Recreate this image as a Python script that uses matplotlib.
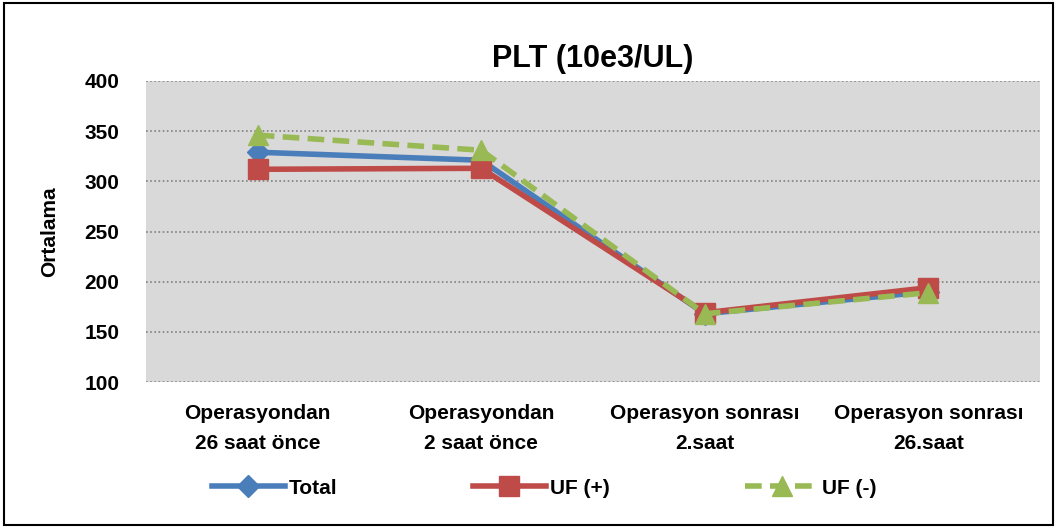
import matplotlib
matplotlib.use("Agg")
import matplotlib.pyplot as plt
from matplotlib.patches import Rectangle

plt.rcParams['font.family'] = ['Liberation Sans', 'DejaVu Sans']
plt.rcParams['font.weight'] = 'bold'

# data
categories = ["Operasyondan\n26 saat önce", "Operasyondan\n2 saat önce",
              "Operasyon sonrası\n2.saat", "Operasyon sonrası\n26.saat"]
total = [329, 321, 168, 190]
uf_pos = [312, 313, 169, 194]
uf_neg = [346, 331, 168, 189]
yticks = [100, 150, 200, 250, 300, 350, 400]

fig = plt.figure(figsize=(10.57, 5.27), dpi=100)
ax = fig.add_axes([146/1057, 1 - 382/527, (1040-146)/1057, (382-81)/527])
ax.set_facecolor('#D9D9D9')

x = range(len(categories))
ax.plot(x, total, color='#4A7EBB', lw=4, marker='D', ms=11, label='Total', zorder=3)
ax.plot(x, uf_pos, color='#BE4B48', lw=4, marker='s', ms=14, label='UF (+)', zorder=4)
ax.plot(x, uf_neg, color='#98B954', lw=4, ls=(0, (3, 1.5)), marker='^', ms=15,
        label='UF (-)', zorder=5)

ax.set_xlim(-0.5, 3.5)
ax.set_ylim(100, 400)
ax.set_yticks(yticks)
ax.set_xticks(list(x))
ax.set_xticklabels(categories, fontsize=15, fontweight='bold', linespacing=1.75)
ax.tick_params(axis='y', labelsize=15, length=0, pad=19)
ax.tick_params(axis='x', length=0, pad=16)
ax.yaxis.grid(True, color='#808080', ls=(0, (1, 1.5)), lw=1.2)
for s in ax.spines.values():
    s.set_visible(False)
ax.set_ylabel('Ortalama', fontsize=15, fontweight='bold', labelpad=18)
ax.set_title('PLT (10e3/UL)', fontsize=22, fontweight='bold', pad=10)

leg = fig.legend(loc='center', bbox_to_anchor=(0.515, 1 - 488/527), ncol=3, frameon=False,
                 fontsize=15, handlelength=3.5, columnspacing=6.5, handletextpad=0.2)

fig.patches.append(Rectangle((0.004, 0.004), 0.992, 0.99, transform=fig.transFigure,
                             fill=False, edgecolor='black', lw=1.5))
fig.savefig('out.png', dpi=100)
